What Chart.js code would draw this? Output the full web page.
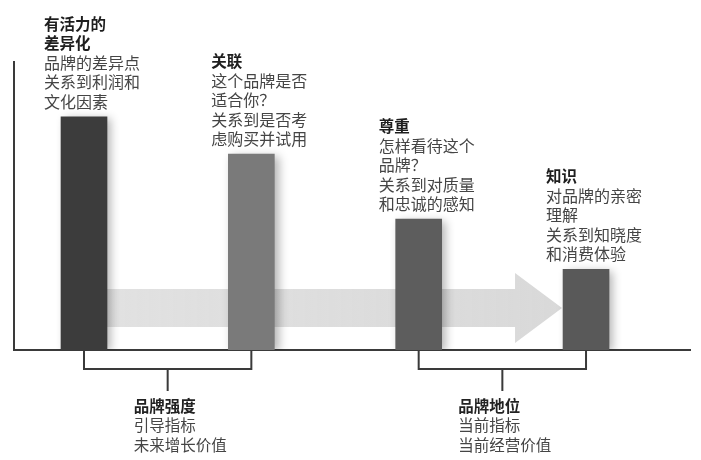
<!DOCTYPE html>
<html><head><meta charset="utf-8">
<script src="https://cdn.jsdelivr.net/npm/chart.js@4/dist/chart.umd.min.js"></script>
<style>html,body{margin:0;padding:0;background:#fff}canvas{display:block}</style>
</head><body>
<canvas id="c" width="701" height="460"></canvas>
<script>
// ---- data ----
const categories = ['有活力的差异化', '关联', '尊重', '知识'];
const values = [81, 68, 45.5, 28];
const barColors = ['#3c3c3c', '#7a7a7a', '#5d5d5d', '#595959'];
const titleLines = [['有活力的', '差异化'], ['关联'], ['尊重'], ['知识']];
const bodyLines = [
  ['品牌的差异点', '关系到利润和', '文化因素'],
  ['这个品牌是否', '适合你？', '关系到是否考', '虑购买并试用'],
  ['怎样看待这个', '品牌？', '关系到对质量', '和忠诚的感知'],
  ['对品牌的亲密', '理解', '关系到知晓度', '和消费体验']
];
const groupBars = [[0, 1], [2, 3]];
const groupTitles = ['品牌强度', '品牌地位'];
const groupLines = [['引导指标', '未来增长价值'], ['当前指标', '当前经营价值']];

const FONT = '"Noto Sans CJK SC", "Noto Sans", sans-serif';

const deco = {
  id: 'deco',
  beforeDatasetsDraw(chart) {
    const {ctx, scales: {y}} = chart;
    const bars = chart.getDatasetMeta(0).data;
    const b0 = bars[0], b3 = bars[3];
    const left = b0.x + b0.width / 2;
    const tip = b3.x - b3.width / 2 - 1;
    const headBase = tip - 47;
    const yc = y.getPixelForValue(14.6);
    const bh = 19, hh = 35;
    ctx.save();
    const g = ctx.createLinearGradient(left, 0, tip, 0);
    g.addColorStop(0, 'rgba(220,220,220,0.85)');
    g.addColorStop(1, '#d9d9d9');
    ctx.fillStyle = g;
    ctx.beginPath();
    ctx.moveTo(left, yc - bh);
    ctx.lineTo(headBase, yc - bh);
    ctx.lineTo(headBase, yc - hh);
    ctx.lineTo(tip, yc);
    ctx.lineTo(headBase, yc + hh);
    ctx.lineTo(headBase, yc + bh);
    ctx.lineTo(left, yc + bh);
    ctx.closePath();
    ctx.fill();
    ctx.restore();
    // soft shadow for bars
    ctx.save();
    ctx.shadowColor = 'rgba(0,0,0,0.3)';
    ctx.shadowBlur = 9;
    ctx.shadowOffsetX = 4;
    ctx.shadowOffsetY = 2;
  },
  afterDatasetsDraw(chart) {
    const {ctx} = chart;
    ctx.restore();
    const bars = chart.getDatasetMeta(0).data;
    ctx.save();
    ctx.textAlign = 'left';
    ctx.textBaseline = 'middle';
    const lh = 19.5;
    bars.forEach((b, i) => {
      const tx = b.x - 40;
      const all = titleLines[i].map(t => [t, true]).concat(bodyLines[i].map(t => [t, false]));
      const lastY = b.y - 15;
      all.forEach(([t, bold], k) => {
        const yy = lastY - (all.length - 1 - k) * lh;
        if (bold) {
          ctx.font = 'bold 15.5px ' + FONT;
          ctx.fillStyle = '#1e1e1e';
        } else {
          ctx.font = '16px ' + FONT;
          ctx.fillStyle = '#454545';
        }
        ctx.fillText(t, tx, yy);
      });
    });
    ctx.restore();
  },
  afterDraw(chart) {
    const {ctx, chartArea} = chart;
    const bars = chart.getDatasetMeta(0).data;
    const y0 = chartArea.bottom;
    const textShift = [34, 44];
    ctx.save();
    ctx.strokeStyle = '#3a3a3a';
    ctx.lineWidth = 2;
    groupBars.forEach((pair, gi) => {
      const xa = bars[pair[0]].x, xb = bars[pair[1]].x;
      const mid = (xa + xb) / 2;
      ctx.beginPath();
      ctx.moveTo(xa, y0);
      ctx.lineTo(xa, y0 + 19);
      ctx.lineTo(xb, y0 + 19);
      ctx.lineTo(xb, y0);
      ctx.moveTo(mid, y0 + 19);
      ctx.lineTo(mid, y0 + 41);
      ctx.stroke();
      ctx.textAlign = 'left';
      ctx.textBaseline = 'middle';
      const tx = mid - textShift[gi];
      ctx.font = 'bold 15.5px ' + FONT;
      ctx.fillStyle = '#222';
      ctx.fillText(groupTitles[gi], tx, y0 + 56);
      ctx.font = '15.5px ' + FONT;
      ctx.fillStyle = '#454545';
      groupLines[gi].forEach((t, k) => ctx.fillText(t, tx, y0 + 56 + (k + 1) * 19.5));
    });
    ctx.restore();
  }
};

new Chart(document.getElementById('c'), {
  type: 'bar',
  data: {
    datasets: [{
      label: '品牌',
      data: values.map((v, i) => ({x: i, y: v})),
      backgroundColor: barColors,
      borderWidth: 0,
      barThickness: 46
    }]
  },
  options: {
    responsive: false,
    animation: false,
    devicePixelRatio: 1,
    layout: {padding: {left: 14, top: 62, right: 11, bottom: 110}},
    plugins: {legend: {display: false}, tooltip: {enabled: false}},
    scales: {
      x: {
        type: 'linear',
        min: -0.4183,
        max: 3.6213,
        offset: false,
        grid: {display: false, drawTicks: false},
        ticks: {display: false},
        border: {display: true, color: '#3a3a3a', width: 2},
        afterFit(s) { s.height = 0; }
      },
      y: {
        min: 0,
        max: 100,
        grid: {display: false, drawTicks: false},
        ticks: {display: false},
        border: {display: true, color: '#3a3a3a', width: 2},
        afterFit(s) { s.width = 0; }
      }
    }
  },
  plugins: [deco]
});
</script>
</body></html>
